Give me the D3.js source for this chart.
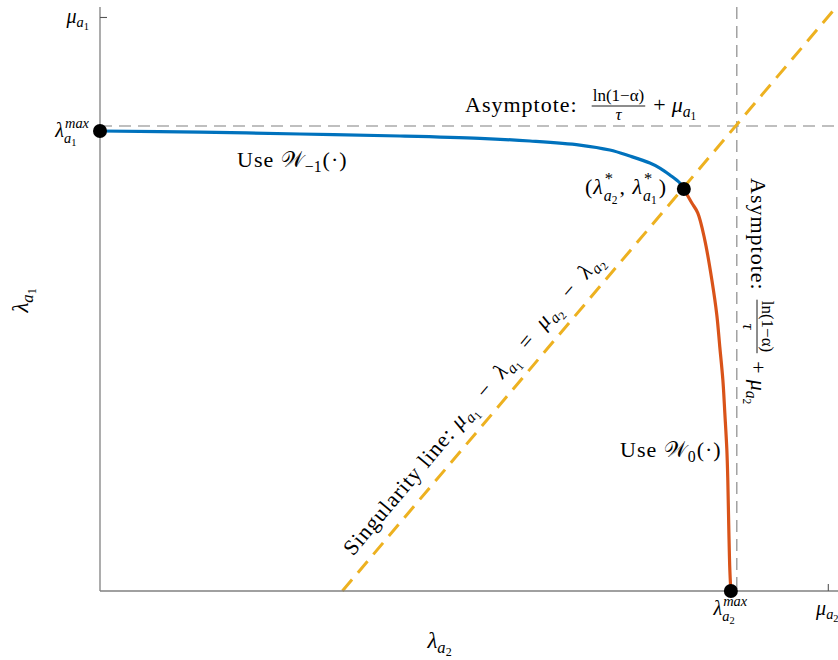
<!DOCTYPE html>
<html><head><meta charset="utf-8">
<script src="https://cdn.jsdelivr.net/npm/d3@7"></script>
<style>body{margin:0;background:#fff} text{font-family:"Liberation Serif","Times New Roman",serif;fill:#000;white-space:pre}</style>
</head><body><svg id="c" width="838" height="660"></svg>
<script>
// ---- data ----
const xLim = [0, 10.14];
const yLim = [0, 6.786];
const asymY = 5.403, asymX = 8.75;
// blue branch (W_{-1})
const blueX = [0, 1.374, 2.747, 4.121, 5.22, 5.907, 6.593, 7.005, 7.28, 7.555, 7.692, 7.83, 7.967, 8.022];
const blueY = [5.345, 5.333, 5.31, 5.287, 5.26, 5.229, 5.182, 5.124, 5.054, 4.973, 4.915, 4.834, 4.741, 4.671];
// orange branch (W_0)
const orangeX = [8.022, 8.132, 8.214, 8.31, 8.407, 8.475, 8.516, 8.558, 8.585, 8.613, 8.626, 8.64, 8.654, 8.668];
const orangeY = [4.671, 4.508, 4.392, 4.078, 3.614, 3.207, 2.835, 2.452, 2.068, 1.638, 1.29, 0.709, 0.244, 0];
// singularity line end points
const singX = [3.33, 10.116];
const singY = [0, 6.786];
// marked points
const dotX = [0, 8.022, 8.668];
const dotY = [5.345, 4.671, 0];
// ticks
const xTickVals = [8.668, 10];
const xTickNames = ["lmax2", "mu2"];
const yTickVals = [5.345, 6.67];
const yTickNames = ["lmax1", "mu1"];

const svg = d3.select("#c");
const x = d3.scaleLinear().domain(xLim).range([100, 838]);
const y = d3.scaleLinear().domain(yLim).range([591, 7]);
const BLUE = "#0072BD", ORANGE = "#D95319", YEL = "#EDB120", GRAY = "#808080";

// rich text layout in ONE text element: parts {t, s(scale), dy(em of base), i(italic), noadv, sync}
function layout(g, parts, size, ls) {
  const txt = g.append("text");
  let xx = 0, xmax = 0;
  parts.forEach(p => {
    if (p.sync) { xx = Math.max(xx, xmax) + (p.gap || 0); return; }
    const fs = (p.s || 1) * size;
    const sp = txt.append("tspan").attr("x", xx + (p.dx || 0)).attr("y", (p.dy || 0) * size)
      .style("font-size", fs + "px").style("font-style", p.i ? "italic" : "normal")
      .style("letter-spacing", (p.s ? 0 : (ls || 0)) + "px").text(p.t);
    const w = sp.node().getComputedTextLength() + (p.dx || 0);
    xmax = Math.max(xmax, xx + w);
    if (!p.noadv) xx += w + (p.gap || 0);
  });
  return Math.max(xx, xmax);
}
function sym(b, idx) {
  return [{t: b, i: true}, {t: "a", i: true, s: 0.72, dy: 0.22}, {t: idx, s: 0.52, dy: 0.36, gap: 1}];
}
function symSupSub(b, sup, idx, supScale, supDy) {
  return [{t: b, i: true}, {t: sup, i: sup === "max", s: supScale || 0.72, dy: supDy || -0.46, noadv: true, dx: 1},
          {t: "a", i: true, s: 0.72, dy: 0.32}, {t: idx, s: 0.52, dy: 0.46, gap: 1}, {sync: true, gap: 1}];
}
function place(parts, size, px, py, anchor, rot, ls) {
  const g = svg.append("g");
  const inner = g.append("g");
  const w = layout(inner, parts, size, ls);
  let off = 0;
  if (anchor === "end") off = -w; else if (anchor === "middle") off = -w / 2;
  inner.attr("transform", `translate(${off},0)`);
  g.attr("transform", `translate(${px},${py}) rotate(${rot || 0})`);
  return g;
}

// ---- reference lines ----
svg.append("line").attr("x1", x(0)).attr("x2", x(xLim[1])).attr("y1", y(asymY)).attr("y2", y(asymY))
  .attr("stroke", GRAY).attr("stroke-width", 1.1).attr("stroke-dasharray", "12,7");
svg.append("line").attr("x1", x(asymX)).attr("x2", x(asymX)).attr("y1", y(yLim[1])).attr("y2", y(0))
  .attr("stroke", GRAY).attr("stroke-width", 1.1).attr("stroke-dasharray", "12,7");
svg.append("line").attr("x1", x(singX[0])).attr("y1", y(singY[0])).attr("x2", x(singX[1])).attr("y2", y(singY[1]))
  .attr("stroke", YEL).attr("stroke-width", 3).attr("stroke-dasharray", "15,9");

// ---- axes ----
const axG = svg.append("g");
axG.append("line").attr("x1", x(0)).attr("x2", x(xLim[1])).attr("y1", y(0)).attr("y2", y(0)).attr("stroke", GRAY).attr("stroke-width", 1.3);
axG.append("line").attr("x1", x(0)).attr("x2", x(0)).attr("y1", y(0)).attr("y2", y(yLim[1])).attr("stroke", GRAY).attr("stroke-width", 1.3);
const xa = d3.axisBottom(x).tickValues(xTickVals).tickFormat("").tickSizeInner(-7).tickSizeOuter(0);
const ya = d3.axisLeft(y).tickValues(yTickVals).tickFormat("").tickSizeInner(-7).tickSizeOuter(0);
const gx = svg.append("g").attr("transform", `translate(0,${y(0)})`).call(xa);
const gy = svg.append("g").attr("transform", `translate(${x(0)},0)`).call(ya);
[gx, gy].forEach(g => { g.select(".domain").remove(); g.selectAll(".tick line").attr("stroke", "#555").attr("stroke-width", 1.1); });

// ---- curves ----
const line = d3.line().x(d => x(d[0])).y(d => y(d[1])).curve(d3.curveCatmullRom);
svg.append("path").datum(blueX.map((v, i) => [v, blueY[i]])).attr("d", line)
  .attr("fill", "none").attr("stroke", BLUE).attr("stroke-width", 3.2);
svg.append("path").datum(orangeX.map((v, i) => [v, orangeY[i]])).attr("d", line)
  .attr("fill", "none").attr("stroke", ORANGE).attr("stroke-width", 3.2);
svg.selectAll("circle.dot").data(dotX.map((v, i) => [v, dotY[i]])).join("circle")
  .attr("class", "dot").attr("cx", d => x(d[0])).attr("cy", d => y(d[1])).attr("r", 7).attr("fill", "#000");

// ---- tick labels ----
const TS = 20;
const tickParts = {
  mu1: sym("μ", "1"), mu2: sym("μ", "2"),
  lmax1: symSupSub("λ", "max", "1"), lmax2: symSupSub("λ", "max", "2")
};
yTickVals.forEach((v, i) => place(tickParts[yTickNames[i]], TS, x(0) - 10, y(v) + 6, "end"));
xTickVals.forEach((v, i) => place(tickParts[xTickNames[i]], TS, x(v), y(0) + 24, "middle"));

// ---- axis labels ----
place(sym("λ", "2"), 23, 440, 648, "middle");
place(sym("λ", "1"), 23, 28, 300, "middle", -90);

// ---- annotations ----
const FS = 22, LS = 1;
function asymLabel(px, py, rot, idx, gapF) {
  const g = svg.append("g").attr("transform", `translate(${px},${py}) rotate(${rot})`);
  let w = layout(g.append("g"), [{t: "Asymptote:"}], FS, LS);
  const fx = w + gapF;
  const ft = g.append("text").style("font-size", "17px");
  const num = ft.append("tspan").attr("y", -11).text("ln(1−α)");
  const nw = num.node().getComputedTextLength();
  num.attr("x", fx + 1);
  const den = ft.append("tspan").attr("y", 8).style("font-style", "italic").text("τ");
  const dw = den.node().getComputedTextLength();
  den.attr("x", fx + 1 + nw / 2 - dw / 2);
  g.append("line").attr("x1", fx).attr("x2", fx + nw + 2).attr("y1", -6).attr("y2", -6).attr("stroke", "#000").attr("stroke-width", 0.9);
  const g2 = g.append("g").attr("transform", `translate(${fx + nw + 10},0)`);
  layout(g2, [{t: "+", gap: 6}].concat(sym("μ", idx)), FS);
}
asymLabel(465, 112, 0, "1", 14);
asymLabel(751, 178, 90, "2", 9);

place([{t: "Use "}, {t: "𝒲"}, {t: "−1", s: 0.72, dy: 0.22, gap: 1}, {t: "(·)"}], FS, 237, 167, "start", 0, LS);
place([{t: "Use "}, {t: "𝒲"}, {t: "0", s: 0.72, dy: 0.22, gap: 1}, {t: "(·)"}], FS, 620, 457, "start", 0, LS);
place([{t: "("}].concat(symSupSub("λ", "*", "2", 0.75, -0.45), [{t: ", "}], symSupSub("λ", "*", "1", 0.75, -0.45), [{t: ")"}]), FS, 585, 194, "start", 0, LS);

// singularity label along the line
const p0 = [x(singX[0]), y(singY[0])], p1 = [x(singX[1]), y(singY[1])];
const L = Math.hypot(p1[0] - p0[0], p1[1] - p0[1]);
const ux = (p1[0] - p0[0]) / L, uy = (p1[1] - p0[1]) / L;
const ang = Math.atan2(uy, ux) * 180 / Math.PI;
const sx = p0[0] + ux * 33 + uy * 14, sy = p0[1] + uy * 33 - ux * 14;
place([{t: "Singularity line: "}].concat(sym("μ", "1"), [{t: "  −  "}], sym("λ", "1"), [{t: "  =  "}], sym("μ", "2"), [{t: "  −  "}], sym("λ", "2")), FS, sx, sy, "start", ang, LS);
</script></body></html>
